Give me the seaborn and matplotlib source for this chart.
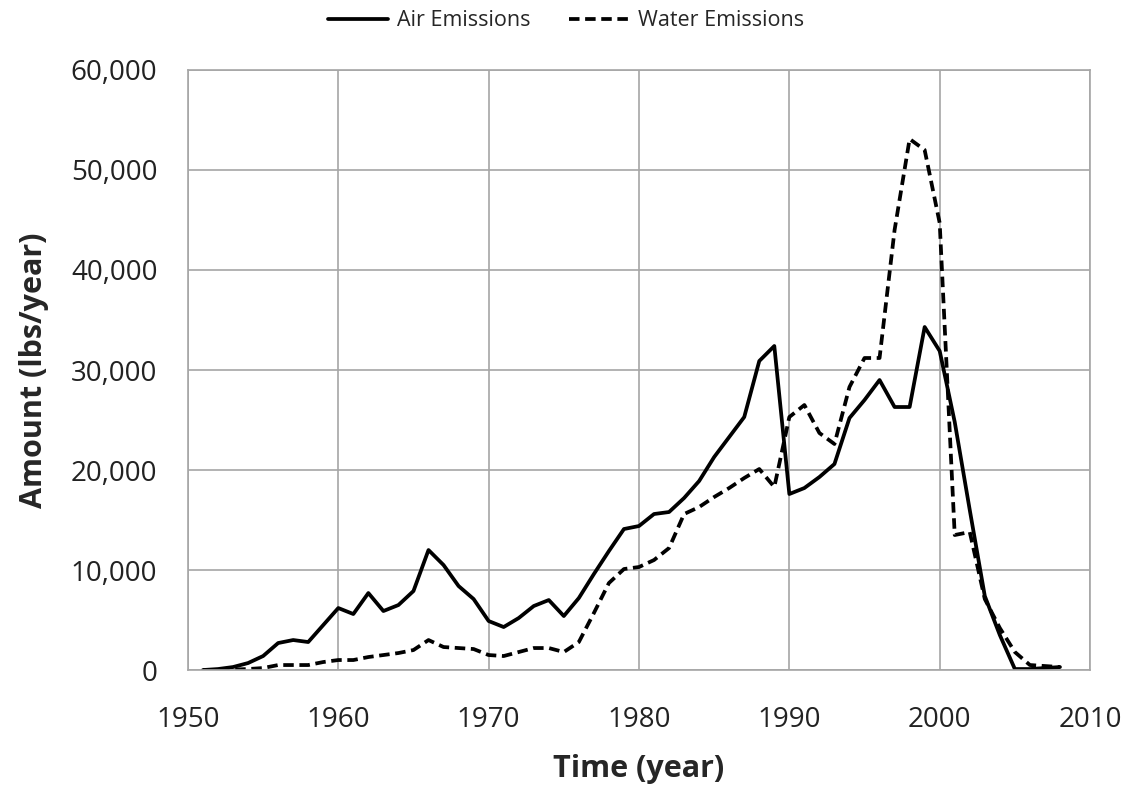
import seaborn as sns
import matplotlib.pyplot as plt
import pandas as pd

years = list(range(1951, 2009))

air = [0, 100, 300, 700, 1400, 2700, 3000, 2800, 4500, 6200,
       5600, 7700, 5900, 6500, 7900, 12000, 10500, 8400, 7100, 4900,
       4300, 5200, 6400, 7000, 5400, 7200, 9600, 11900, 14100, 14400,
       15600, 15800, 17200, 18900, 21300, 23300, 25300, 30900, 32400, 17600,
       18200, 19300, 20600, 25200, 27000, 29000, 26300, 26300, 34300, 31900,
       24800, 16000, 7400, 3500, 100, 100, 200, 300]

water = [0, 0, 50, 100, 200, 500, 500, 500, 800, 1000,
         1000, 1300, 1500, 1700, 2000, 3000, 2300, 2200, 2100, 1500,
         1400, 1800, 2200, 2200, 1800, 2800, 5700, 8700, 10100, 10300,
         11000, 12200, 15600, 16300, 17300, 18200, 19200, 20100, 18300, 25300,
         26500, 23700, 22600, 28300, 31200, 31200, 44000, 53100, 52000, 44700,
         13500, 13800, 7100, 4200, 1800, 500, 400, 300]

df = pd.DataFrame({"year": years, "Air Emissions": air, "Water Emissions": water})
long = df.melt(id_vars="year", var_name="series", value_name="amount")

sns.set_style("white")
plt.rcParams['font.family'] = ['Open Sans', 'DejaVu Sans']

fig = plt.figure(figsize=(11.37, 7.97), dpi=100)
ax = fig.add_axes([0.1653, 0.1593, 0.7934, 0.7529])

sns.lineplot(data=long, x="year", y="amount", style="series",
             dashes={"Air Emissions": "", "Water Emissions": (2.8, 1.5)},
             color="black", linewidth=2.7, ax=ax, legend=True)

ax.set_xlim(1950, 2010)
ax.set_ylim(0, 60000)
ax.set_xticks(range(1950, 2011, 10))
ax.set_yticks(range(0, 60001, 10000))
ax.set_yticklabels([f"{v:,}" for v in range(0, 60001, 10000)])
ax.tick_params(axis="both", labelsize=20, length=0, colors="#222222")
ax.tick_params(axis="y", pad=22)
ax.tick_params(axis="x", pad=26)
ax.grid(True, color="#a6a6a6", linewidth=1.2)
ax.set_axisbelow(True)
for s in ax.spines.values():
    s.set_color("#a6a6a6")
    s.set_linewidth(1.2)

ax.set_xlabel("Time (year)", fontsize=22, fontweight="bold", labelpad=14)
ax.set_ylabel("Amount (lbs/year)", fontsize=22, fontweight="bold", labelpad=16)

handles, labels = ax.get_legend_handles_labels()
ax.get_legend().remove()
fig.legend(handles, labels, loc="center", bbox_to_anchor=(0.498, 0.974),
           ncol=2, frameon=False, fontsize=15.5, handlelength=2.8,
           columnspacing=1.8, handletextpad=0.4)

plt.savefig("out.png", dpi=100)
